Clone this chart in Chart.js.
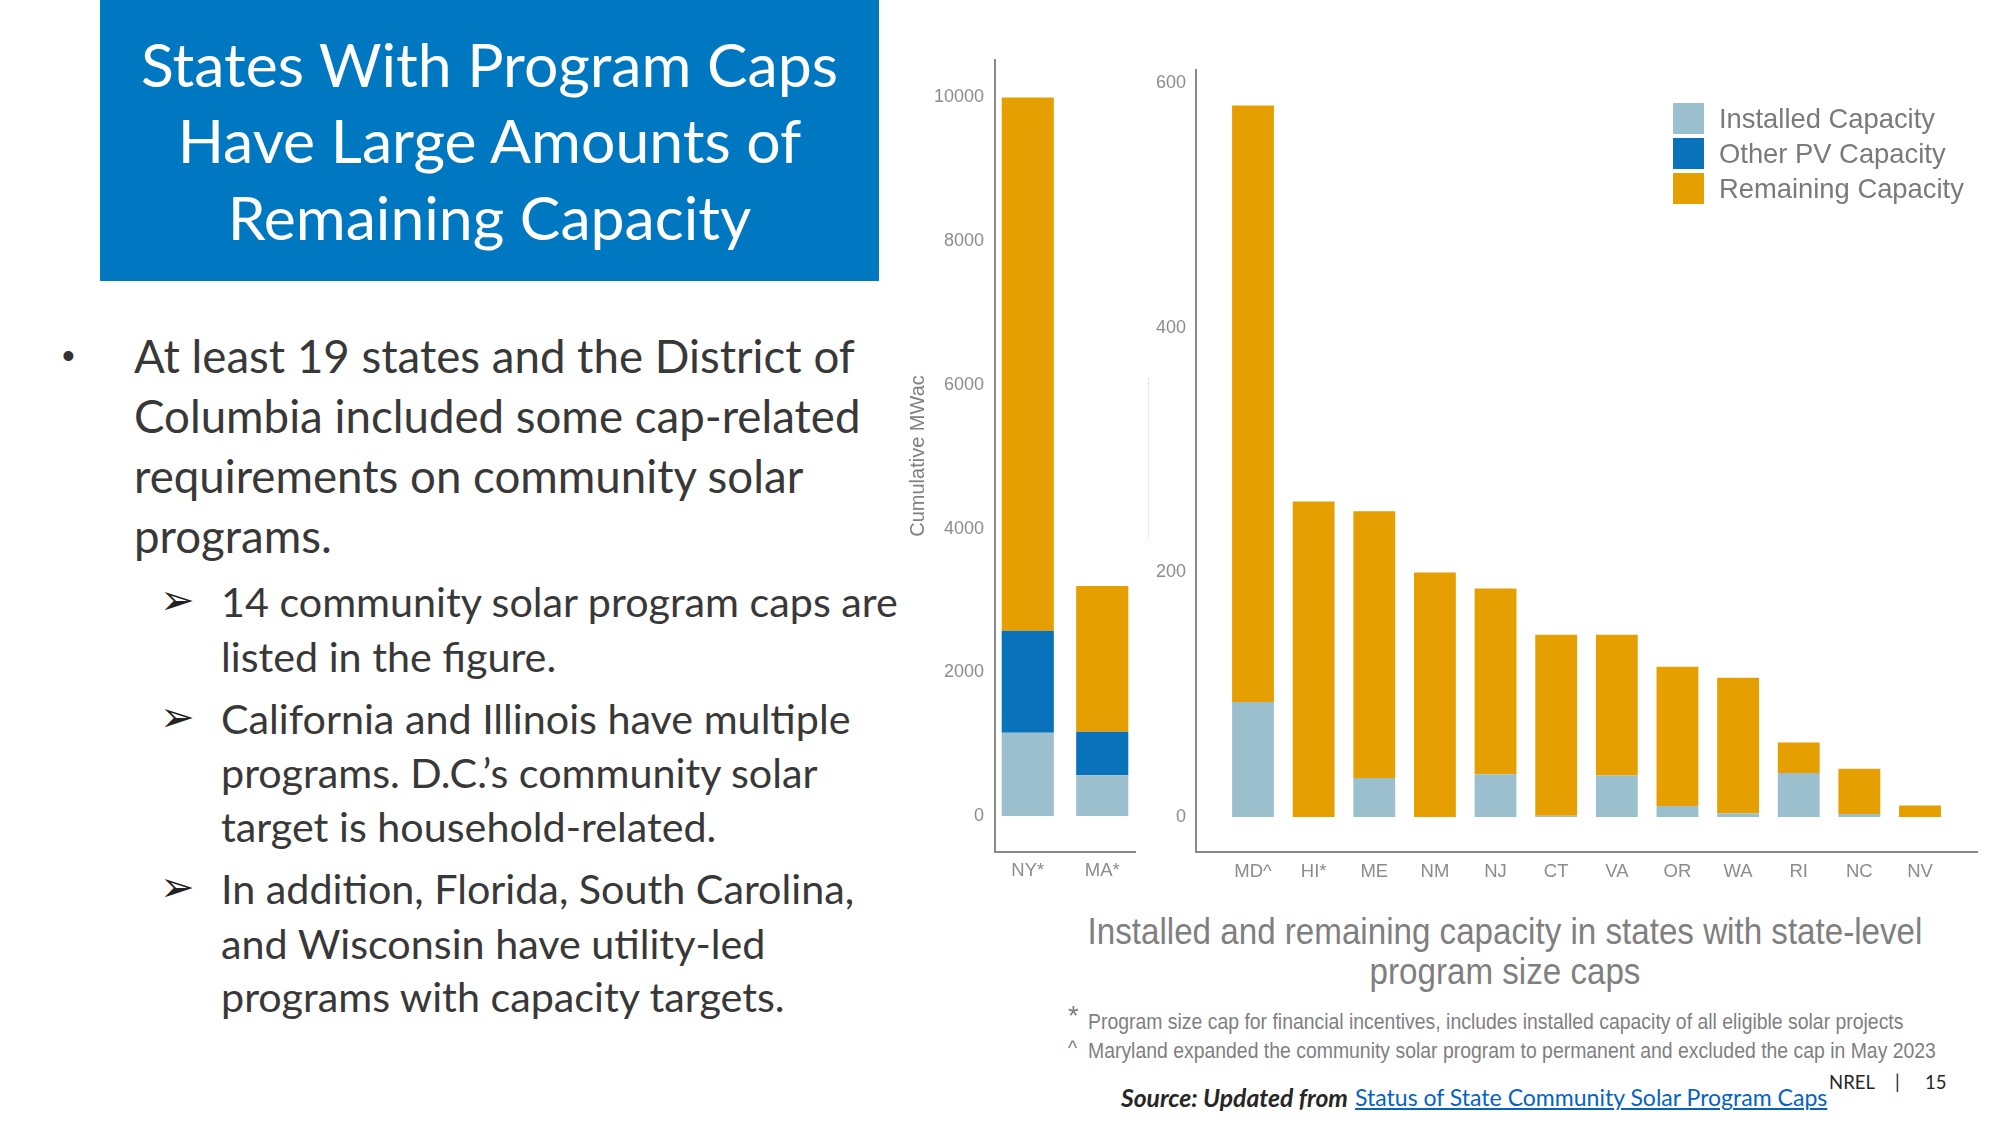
<!DOCTYPE html>
<html>
<head>
<meta charset="utf-8">
<script src="https://cdn.jsdelivr.net/npm/chart.js@4.4.1/dist/chart.umd.min.js"></script>
<style>
  html, body { margin:0; padding:0; background:#fff; }
  body { width:2000px; height:1125px; position:relative; overflow:hidden; }
  .t { position:absolute; white-space:nowrap; }
  canvas { position:absolute; }
  #titlebox { position:absolute; left:100px; top:0; width:779px; height:281px; background:#0078C1; }
</style>
</head>
<body>
<div id="titlebox"></div>
<canvas id="leftChart" width="243" height="862" style="left:902px;top:30px;"></canvas>
<canvas id="rightChart" width="887" height="852" style="left:1100px;top:40px;"></canvas>
<div style="position:absolute;left:1148px;top:378px;height:160px;border-left:1px dotted #d4d4d4;"></div>
<script>
// ---------------- DATA ----------------
const seriesNames  = ['Installed Capacity', 'Other PV Capacity', 'Remaining Capacity'];
const seriesColors = ['#9CBFCE', '#0A72BA', '#E69F00'];

const leftStates    = ['NY*', 'MA*'];
const leftInstalled = [1160, 566];
const leftOther     = [1420, 606];
const leftRemaining = [7420, 2028];
const leftTicks     = [0, 2000, 4000, 6000, 8000, 10000];

const rightStates    = ['MD^', 'HI*', 'ME', 'NM', 'NJ', 'CT', 'VA', 'OR', 'WA', 'RI', 'NC', 'NV'];
const rightInstalled = [94, 0, 32, 0, 35, 1, 34, 9, 3, 36, 2.5, 0];
const rightOther     = [0, 0, 0, 0, 0, 0, 0, 0, 0, 0, 0, 0];
const rightRemaining = [488, 258, 218, 200, 152, 148, 115, 114, 111, 25, 37, 9.5];
const rightTicks     = [0, 200, 400, 600];

const yAxisTitle = 'Cumulative MWac';

const titleLines = ['States With Program Caps', 'Have Large Amounts of', 'Remaining Capacity'];
const bulletMain = ['At least 19 states and the District of', 'Columbia included some cap-related',
                    'requirements on community solar', 'programs.'];
const subBullets = [
  ['14 community solar program caps are', 'listed in the figure.'],
  ['California and Illinois have multiple', 'programs. D.C.\u2019s community solar', 'target is household-related.'],
  ['In addition, Florida, South Carolina,', 'and Wisconsin have utility-led', 'programs with capacity targets.']
];
const captionLines = ['Installed and remaining capacity in states with state-level', 'program size caps'];
const footnotes = [
  ['*', 'Program size cap for financial incentives, includes installed capacity of all eligible solar projects'],
  ['^', 'Maryland expanded the community solar program to permanent and excluded the cap in May 2023']
];
const sourceLead = 'Source: Updated from';
const sourceLink = 'Status of State Community Solar Program Caps';
const pageTag = ['NREL', '|', '15'];

// ---------------- TEXT HELPERS ----------------
const mctx = document.createElement('canvas').getContext('2d');
function measure(text, font) { mctx.font = font; return mctx.measureText(text).width; }
function fitSize(text, family, weight, style, target) {
  return 100 * target / measure(text, `${style} ${weight} 100px ${family}`);
}
function addText(text, o) {
  const d = document.createElement('div');
  d.className = 't';
  d.textContent = text;
  const s = d.style;
  s.fontFamily = o.family; s.fontSize = o.size + 'px'; s.lineHeight = o.size + 'px';
  s.fontWeight = o.weight || 'normal'; s.fontStyle = o.style || 'normal';
  s.color = o.color; s.top = (o.y - o.size / 2) + 'px';
  s.left = o.x + 'px';
  let tr = '';
  if (o.center) tr += 'translateX(-50%) ';
  if (o.sy) tr += `scaleY(${o.sy})`;
  if (tr) s.transform = tr;
  if (o.deco) s.textDecoration = o.deco;
  document.body.appendChild(d);
  return d;
}

const BODY = "Lato, 'Open Sans', sans-serif";
const ARIAL = "'Liberation Sans', Arial, sans-serif";

// Title
const tSize = fitSize(titleLines[0], 'Lato', 400, 'normal', 698);
[64, 140, 217].forEach((y, i) => addText(titleLines[i], {family: BODY, size: tSize, color: '#fff', x: 489.5, y, center: true}));

// Main bullet
const bSize = fitSize(bulletMain[0], 'Lato', 400, 'normal', 721);
addText('\u2022', {family: ARIAL, size: bSize * 0.8, color: '#333', x: 62, y: 356});
[356, 416, 476, 536].forEach((y, i) => addText(bulletMain[i], {family: BODY, size: bSize, color: '#383838', x: 134, y}));

// Sub bullets
const sSize = fitSize(subBullets[0][0], 'Lato', 400, 'normal', 679);
const subY = [[602, 657], [719, 773, 827], [889, 944, 997]];
subBullets.forEach((p, k) => {
  addText('\u27A2', {family: "'DejaVu Sans', sans-serif", size: sSize * 1.0, color: '#222', x: 160, y: subY[k][0] - 1});
  p.forEach((line, i) => addText(line, {family: BODY, size: sSize, color: '#383838', x: 221, y: subY[k][i]}));
});

// Caption
const cSize = fitSize(captionLines[0], 'Liberation Sans', 400, 'normal', 835);
[932, 972].forEach((y, i) => addText(captionLines[i], {family: ARIAL, size: cSize, color: '#7f7f7f', x: 1505, y, center: true, sy: 1.12}));

// Footnotes
const fSize = fitSize(footnotes[0][1], 'Liberation Sans', 400, 'normal', 816);
addText(footnotes[0][0], {family: ARIAL, size: fSize * 1.4, color: '#7f7f7f', x: 1068, y: 1016});
addText(footnotes[0][1], {family: ARIAL, size: fSize, color: '#7f7f7f', x: 1088, y: 1022, sy: 1.12});
addText(footnotes[1][0], {family: ARIAL, size: fSize, color: '#7f7f7f', x: 1068, y: 1049});
addText(footnotes[1][1], {family: ARIAL, size: fSize, color: '#7f7f7f', x: 1088, y: 1051, sy: 1.12});

// Source
const srcSize = fitSize(sourceLink, 'Lato', 400, 'normal', 474);
const leadSize = fitSize(sourceLead, 'Lato', 'bold', 'italic', 227);
addText(sourceLead, {family: BODY, size: leadSize, weight: 'bold', style: 'italic', color: '#262626', x: 1121, y: 1098});
addText(sourceLink, {family: BODY, size: srcSize, color: '#0563C1', x: 1355, y: 1098, deco: 'underline'});

// Page tag
const nSize = fitSize(pageTag[0], 'Lato', 400, 'normal', 46);
addText(pageTag[0], {family: BODY, size: nSize, color: '#262626', x: 1829, y: 1082});
addText(pageTag[1], {family: BODY, size: nSize, color: '#262626', x: 1895, y: 1082});
addText(pageTag[2], {family: BODY, size: nSize, color: '#262626', x: 1925, y: 1082});

// Legend (built from series names / colours)
const lgSize = fitSize(seriesNames[0], 'Liberation Sans', 400, 'normal', 216);
seriesNames.forEach((name, k) => {
  const sq = document.createElement('div');
  sq.style.cssText = `position:absolute;left:1673px;top:${103 + 35 * k}px;width:31px;height:31px;background:${seriesColors[k]};`;
  document.body.appendChild(sq);
  addText(name, {family: ARIAL, size: lgSize, color: '#7a7a7a', x: 1719, y: 119 + 35 * k});
});

// ---------------- CHARTS ----------------
const AXIS_GRAY = '#8a8a8a';
function makeChart(id, labels, inst, other, rem, ticks, yMin, yMax, xPad, yWidth, title, barPct, xPadTick, yPadTick) {
  const toXY = arr => arr.map((v, i) => ({x: i, y: v}));
  return new Chart(document.getElementById(id), {
    type: 'bar',
    data: {
      datasets: [inst, other, rem].map((d, k) => ({
        label: seriesNames[k], data: toXY(d), backgroundColor: seriesColors[k],
        borderWidth: 0, barPercentage: barPct, categoryPercentage: 1
      }))
    },
    options: {
      responsive: false, animation: false, devicePixelRatio: 1,
      layout: {padding: {top: 30, right: 10, bottom: 0, left: 0}},
      plugins: {legend: {display: false}, tooltip: {enabled: false}},
      scales: {
        x: {
          type: 'linear', stacked: true, offset: false,
          min: -xPad, max: labels.length - 1 + xPad,
          grid: {display: false, offset: false},
          border: {display: true, color: AXIS_GRAY, width: 2},
          afterBuildTicks: s => { s.ticks = labels.map((_, i) => ({value: i})); },
          afterFit: s => { s.height = 40; },
          ticks: {
            callback: v => labels[v], autoSkip: false, maxRotation: 0, minRotation: 0,
            padding: xPadTick, color: '#8c8c8c', font: {family: ARIAL, size: 18.5}
          }
        },
        y: {
          stacked: true, min: yMin, max: yMax,
          grid: {display: false},
          border: {display: true, color: AXIS_GRAY, width: 2},
          afterBuildTicks: s => { s.ticks = ticks.map(v => ({value: v})); },
          afterFit: s => { s.width = yWidth; },
          ticks: {callback: v => String(v), padding: yPadTick, color: '#8c8c8c', font: {family: ARIAL, size: 18}},
          title: {display: !!title, text: title || '', color: '#7f7f7f', font: {family: ARIAL, size: 20}, padding: {top: 4, bottom: 4}}
        }
      }
    }
  });
}

makeChart('leftChart', leftStates, leftInstalled, leftOther, leftRemaining, leftTicks,
          -501, 10522, 0.44, 93, yAxisTitle, 0.7, 0, 3);
makeChart('rightChart', rightStates, rightInstalled, rightOther, rightRemaining, rightTicks,
          -28.6, 611, 0.94, 96, null, 0.69, 1, 2);
</script>
</body>
</html>
